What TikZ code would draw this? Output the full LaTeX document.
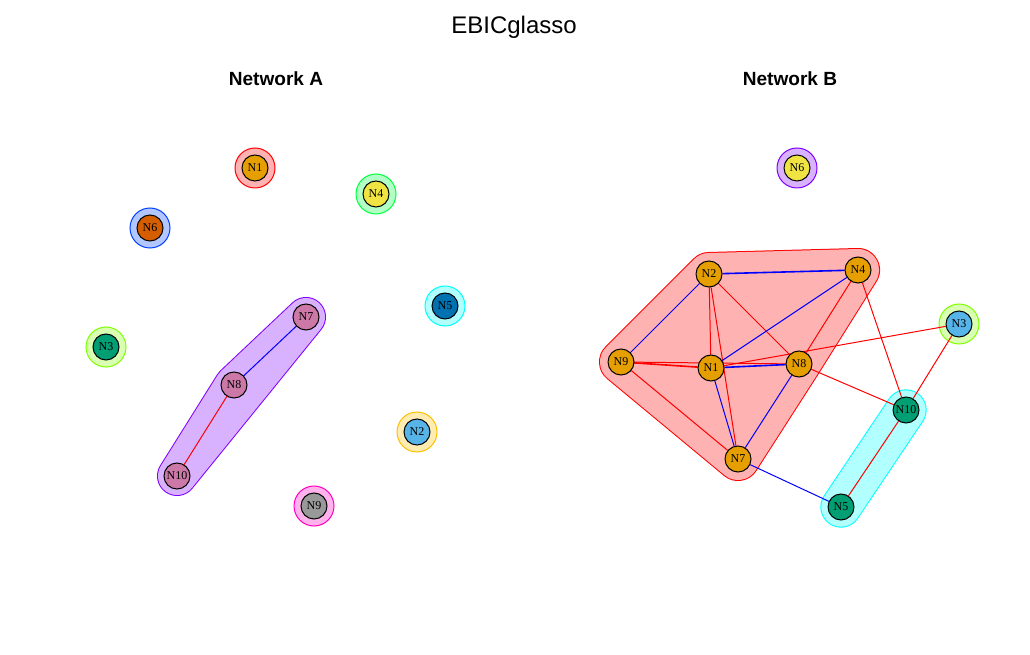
\documentclass[tikz,border=0pt]{standalone}
\usepackage{fontspec}
\setmainfont{Liberation Serif}
\newfontfamily\arialf{Liberation Sans}
\pgfdeclarelayer{bg}
\pgfdeclarelayer{edges}
\pgfsetlayers{bg,edges,main}
\definecolor{cOrange}{HTML}{E69F00}
\definecolor{cYellow}{HTML}{F0E442}
\definecolor{cVerm}{HTML}{D55E00}
\definecolor{cBlue}{HTML}{0072B2}
\definecolor{cGreen}{HTML}{009E73}
\definecolor{cSky}{HTML}{56B4E9}
\definecolor{cGrey}{HTML}{999999}
\definecolor{cPink}{HTML}{CC79A7}
\definecolor{bRed}{HTML}{FF0000}
\definecolor{bOrange}{HTML}{FFBF00}
\definecolor{bChart}{HTML}{80FF00}
\definecolor{bGreen}{HTML}{00FF40}
\definecolor{bCyan}{HTML}{00FFFF}
\definecolor{bBlue}{HTML}{0040FF}
\definecolor{bPurple}{HTML}{8000FF}
\definecolor{bMag}{HTML}{FF00BF}
\definecolor{eBlue}{HTML}{0000FF}
\definecolor{eRed}{HTML}{FF0000}
\tikzset{
  nd/.style={circle, draw=black, line width=0.75pt, minimum size=19.5pt, inner sep=0pt, font=\fontsize{9}{9}\selectfont},
  posedge/.style={draw=eBlue, line width=0.75pt},
  negedge/.style={draw=eRed, line width=0.75pt},
  thk/.style={line width=1.2pt},
  ttl/.style={font=\arialf\fontsize{18}{18}\selectfont},
  sub/.style={font=\arialf\bfseries\fontsize{14.3}{14.3}\selectfont},
}
\newcommand\single[2]{%
  \begin{pgfonlayer}{bg}
  \draw[fill=#1!30, draw=#1, line width=0.75pt] (#2.center) circle[radius=15pt];
  \end{pgfonlayer}}
\newcommand\grp[4]{%
  \begin{pgfonlayer}{bg}
  \draw[#1, line width=#3, line join=round, line cap=round] #2;
  \draw[#1!30, line width=#4, line join=round, line cap=round] #2;
  \fill[#1!30] #2;
  \end{pgfonlayer}}
\begin{document}
\begin{tikzpicture}[x=0.75pt, y=-0.75pt]
\useasboundingbox (0,0) rectangle (1030,655);
\node[ttl] (title) at (514,27) {EBICglasso};
\node[sub] (ta) at (276,79) {Network A};
\node[sub] (tb) at (790,79) {Network B};
% Network A nodes
\node[nd, fill=cOrange] (a1) at (255,168) {N1};
\node[nd, fill=cSky] (a2) at (417,432) {N2};
\node[nd, fill=cGreen] (a3) at (106,347) {N3};
\node[nd, fill=cYellow] (a4) at (376,194) {N4};
\node[nd, fill=cBlue] (a5) at (445,306) {N5};
\node[nd, fill=cVerm] (a6) at (150,228) {N6};
\node[nd, fill=cPink] (a7) at (306,317) {N7};
\node[nd, fill=cPink] (a8) at (234,385) {N8};
\node[nd, fill=cGrey] (a9) at (314,506) {N9};
\node[nd, fill=cPink] (a10) at (177,476) {N10};
% Network B nodes
\node[nd, fill=cOrange] (b1) at (711,368) {N1};
\node[nd, fill=cOrange] (b2) at (709,274) {N2};
\node[nd, fill=cSky] (b3) at (959,324) {N3};
\node[nd, fill=cOrange] (b4) at (858,270) {N4};
\node[nd, fill=cGreen] (b5) at (841,507) {N5};
\node[nd, fill=cYellow] (b6) at (797,168) {N6};
\node[nd, fill=cOrange] (b7) at (738,459) {N7};
\node[nd, fill=cOrange] (b8) at (799,364) {N8};
\node[nd, fill=cOrange] (b9) at (621,362) {N9};
\node[nd, fill=cGreen] (b10) at (906,410) {N10};
% groups A
\single{bRed}{a1}
\single{bOrange}{a2}
\single{bChart}{a3}
\single{bGreen}{a4}
\single{bCyan}{a5}
\single{bBlue}{a6}
\single{bMag}{a9}
\grp{bPurple}{(a7.center) -- (a8.center) -- (a10.center) -- cycle}{30pt}{28.5pt}
% groups B
\single{bPurple}{b6}
\single{bChart}{b3}
\grp{bCyan}{(b10.center) -- (b5.center)}{31pt}{29.5pt}
\grp{bRed}{(b9.center) -- (b2.center) -- (b4.center) -- (b8.center) -- (b7.center) -- cycle}{33pt}{31.5pt}
% edges
\begin{pgfonlayer}{edges}
\draw[posedge] (a7) -- (a8);
\draw[negedge] (a8) -- (a10);
\draw[posedge, thk] (b2) -- (b4);
\draw[posedge] (b2) -- (b9);
\draw[negedge] (b2) -- (b1);
\draw[negedge] (b2) -- (b7);
\draw[negedge] (b2) -- (b8);
\draw[posedge] (b4) -- (b1);
\draw[negedge] (b4) -- (b8);
\draw[negedge] (b4) -- (b10);
\draw[negedge, thk] (b9.center) -- (b1.center);
\draw[negedge] (b9.center) -- (b8.center);
\draw[negedge] (b9) -- (b7);
\draw[posedge, thk] (b1) -- (b8);
\draw[negedge] (b1.center) -- (b3.center);
\draw[posedge] (b1) -- (b7);
\draw[posedge] (b8) -- (b7);
\draw[negedge] (b8) -- (b10);
\draw[negedge] (b3) -- (b10);
\draw[negedge] (b10) -- (b5);
\draw[posedge] (b7) -- (b5);
\end{pgfonlayer}
\end{tikzpicture}
\end{document}
